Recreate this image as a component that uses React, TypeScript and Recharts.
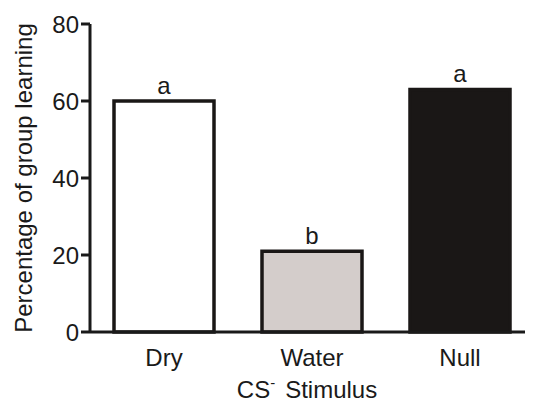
import React from "react";
import { BarChart, Bar, XAxis, YAxis, Cell, LabelList } from "recharts";

const categories = ["Dry", "Water", "Null"];
const values = [60, 21, 63];
const letters = ["a", "b", "a"];
const fills = ["#ffffff", "#d4cdcb", "#1a1716"];
const yTicks = [0, 20, 40, 60, 80];

const data = categories.map((c, i) => ({ name: c, value: values[i], letter: letters[i] }));

const FONT = "'Liberation Sans', Arial, sans-serif";
const FS = 24;

const XTitle = (props: any) => {
  const { viewBox } = props;
  const cx = viewBox.x + viewBox.width / 2;
  return (
    <text x={cx - 5} y={398} textAnchor="middle" fontFamily={FONT} fontSize={FS} fill="#1a1a1a">
      CS
      <tspan dy={-10} fontSize={15}>-</tspan>
      <tspan dy={10} dx={10}>Stimulus</tspan>
    </text>
  );
};

export default function App() {
  return (
    <div style={{ margin: "-8px 0 0 -8px", width: 541, height: 405 }}>
      <BarChart
        width={541}
        height={405}
        data={data}
        margin={{ top: 24, right: 7, bottom: 43, left: 0 }}
        barCategoryGap={24}
      >
        <XAxis
          dataKey="name"
          height={30}
          tickLine={false}
          axisLine={{ stroke: "#1a1a1a", strokeWidth: 3 }}
          tick={{ fontFamily: FONT, fontSize: FS, fill: "#1a1a1a" }}
          tickMargin={11}
          label={<XTitle />}
        />
        <YAxis
          width={90}
          domain={[0, 80]}
          ticks={yTicks}
          interval={0}
          tickSize={9}
          tickLine={{ stroke: "#1a1a1a", strokeWidth: 3 }}
          axisLine={{ stroke: "#1a1a1a", strokeWidth: 3 }}
          tick={{ fontFamily: FONT, fontSize: FS, fill: "#1a1a1a" }}
          tickMargin={2}
          label={{
            value: "Percentage of group learning",
            angle: -90,
            position: "insideLeft",
            dx: 18,
            dy: 0,
            style: { fontFamily: FONT, fontSize: FS, fill: "#1a1a1a", textAnchor: "middle" },
          }}
        />
        <Bar dataKey="value" isAnimationActive={false} stroke="#1a1a1a" strokeWidth={3.5}>
          {data.map((d, i) => (
            <Cell key={d.name} fill={fills[i]} stroke="#1a1716" />
          ))}
          <LabelList
            dataKey="letter"
            position="top"
            offset={7}
            style={{ fontFamily: FONT, fontSize: FS, fill: "#1a1a1a" }}
          />
        </Bar>
      </BarChart>
    </div>
  );
}
